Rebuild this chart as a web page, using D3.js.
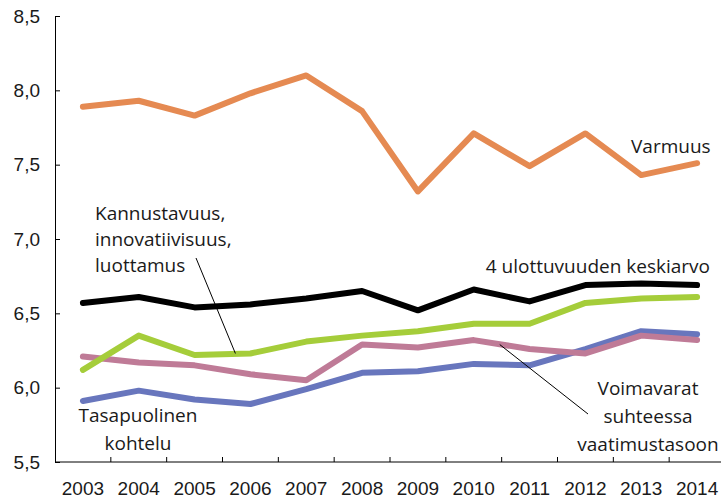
<!DOCTYPE html>
<html>
<head>
<meta charset="utf-8">
<script src="https://cdn.jsdelivr.net/npm/d3@7"></script>
<style>
  body { margin: 0; background: #fff; }
  svg { display: block; font-family: "Open Sans", "Noto Sans", sans-serif; }
  .axis text { font-size: 19px; fill: #1a1a1a; }
  .axis path, .axis line { stroke: #000; stroke-width: 1px; }
  .label { font-size: 19px; fill: #1a1a1a; }
</style>
</head>
<body>
<div id="chart"></div>
<script>
// years on the x axis
const years = ["2003", "2004", "2005", "2006", "2007", "2008", "2009", "2010", "2011", "2012", "2013", "2014"];

// y axis ticks
const yTicks = [5.5, 6.0, 6.5, 7.0, 7.5, 8.0, 8.5];

// series values
const varmuus     = [7.89, 7.93, 7.83, 7.98, 8.10, 7.86, 7.32, 7.71, 7.49, 7.71, 7.43, 7.51];
const keskiarvo   = [6.57, 6.61, 6.54, 6.56, 6.60, 6.65, 6.52, 6.66, 6.58, 6.69, 6.70, 6.69];
const kannustavuus = [6.12, 6.35, 6.22, 6.23, 6.31, 6.35, 6.38, 6.43, 6.43, 6.57, 6.60, 6.61];
const voimavarat  = [6.21, 6.17, 6.15, 6.09, 6.05, 6.29, 6.27, 6.32, 6.26, 6.23, 6.35, 6.32];
const tasapuolinen = [5.91, 5.98, 5.92, 5.89, 5.99, 6.10, 6.11, 6.16, 6.15, 6.26, 6.38, 6.36];

const series = [
    {name: "Varmuus", values: varmuus, color: "#E58A52"},
    {name: "4 ulottuvuuden keskiarvo", values: keskiarvo, color: "#000000"},
    {name: "Tasapuolinen kohtelu", values: tasapuolinen, color: "#6876BD"},
    {name: "Voimavarat suhteessa vaatimustasoon", values: voimavarat, color: "#BF7B97"},
    {name: "Kannustavuus, innovatiivisuus, luottamus", values: kannustavuus, color: "#A5CD3A"}
];

const width = 721, height = 499;
const margin = {top: 16, left: 55, bottom: 37};

const svg = d3.select("#chart").append("svg")
    .attr("width", width)
    .attr("height", height);

// band scale runs a little past the right edge, like the original
const x = d3.scaleBand()
    .domain(years)
    .range([margin.left, 725]);

const y = d3.scaleLinear()
    .domain([5.5, 8.5])
    .range([height - margin.bottom, margin.top]);

const fmt = d => d3.format(".1f")(d).replace(".", ",");

// y axis
const yAxis = d3.axisLeft(y)
    .tickValues(yTicks)
    .tickFormat(fmt)
    .tickSizeInner(-5)
    .tickSizeOuter(0)
    .tickPadding(15);

svg.append("g")
    .attr("class", "y-axis axis")
    .attr("transform", `translate(${margin.left},0)`)
    .call(yAxis);

// x axis: labels at band centres, ticks at band boundaries
const xAxis = d3.axisBottom(x)
    .tickSize(0)
    .tickPadding(20);

const xg = svg.append("g")
    .attr("class", "x-axis axis")
    .attr("transform", `translate(0,${y(5.5)})`)
    .call(xAxis);

xg.select(".domain").attr("d", `M${margin.left},0H${width}`);

xg.selectAll(".bound")
    .data(years.slice(0, -1))
    .enter()
    .append("line")
    .attr("class", "bound")
    .attr("x1", d => x(d) + x.bandwidth())
    .attr("x2", d => x(d) + x.bandwidth())
    .attr("y1", 0)
    .attr("y2", -5);

// lines
const line = d3.line()
    .x((d, i) => x(years[i]) + x.bandwidth() / 2)
    .y(d => y(d));

svg.selectAll(".series")
    .data(series)
    .enter()
    .append("path")
    .attr("class", "series")
    .attr("fill", "none")
    .attr("stroke", d => d.color)
    .attr("stroke-width", 6)
    .attr("stroke-linecap", "round")
    .attr("stroke-linejoin", "round")
    .attr("d", d => line(d.values));

// leader lines
const cx = yr => x(yr) + x.bandwidth() / 2;
svg.append("line")
    .attr("x1", 196).attr("y1", 258)
    .attr("x2", cx("2006") - 15).attr("y2", y(kannustavuus[3]))
    .attr("stroke", "#000").attr("stroke-width", 1);
svg.append("line")
    .attr("x1", cx("2010") + 26).attr("y1", y(6.29))
    .attr("x2", 588).attr("y2", 414)
    .attr("stroke", "#000").attr("stroke-width", 1);

// text labels
function addLabel(lines, xPos, y0, anchor, dy) {
    const t = svg.append("text")
        .attr("class", "label")
        .attr("text-anchor", anchor);
    lines.forEach((s, i) => {
        t.append("tspan")
            .attr("x", xPos)
            .attr("y", y0 + i * dy)
            .text(s);
    });
}

addLabel(["Varmuus"], 631, 153, "start", 0);
addLabel(["4 ulottuvuuden keskiarvo"], 710, 273, "end", 0);
addLabel(["Kannustavuus,", "innovatiivisuus,", "luottamus"], 95, 220, "start", 26);
addLabel(["Tasapuolinen", "kohtelu"], 138, 422, "middle", 28);
addLabel(["Voimavarat", "suhteessa", "vaatimustasoon"], 648, 395, "middle", 28);
</script>
</body>
</html>
